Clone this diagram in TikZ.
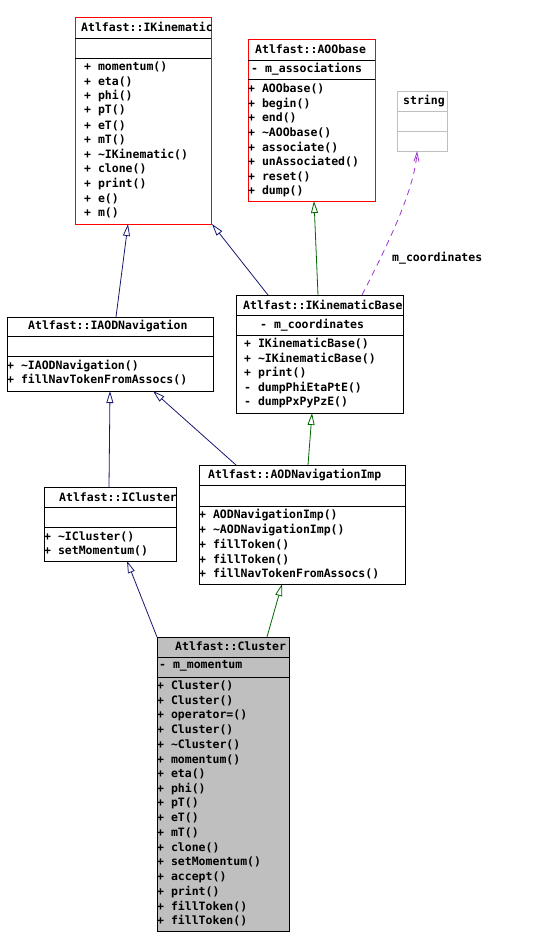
\documentclass[tikz,border=0pt]{standalone}
\usepackage{fontspec}
\setmonofont{DejaVu Sans Mono}
\usetikzlibrary{arrows.meta}
\definecolor{navyline}{RGB}{25,25,112}
\definecolor{greenline}{RGB}{0,100,0}
\definecolor{useline}{RGB}{154,50,205}
\definecolor{boxgray}{RGB}{191,191,191}
\tikzset{
  member/.style={anchor=west, inner sep=0pt, font=\ttfamily\bfseries\fontsize{11.5}{12}\selectfont},
  classline/.style={line width=1pt},
  pubinh/.style={draw=navyline, line width=0.8pt, -{Triangle[open,length=12pt,width=7pt]}},
  protinh/.style={draw=greenline, line width=0.8pt, -{Triangle[open,length=12pt,width=7pt]}},
  usage/.style={draw=useline, line width=0.8pt, dash pattern=on 6pt off 5pt, -{Straight Barb[length=9pt,width=5pt]}}
}
\begin{document}
\begin{tikzpicture}[x=1pt,y=-1pt]
\useasboundingbox[fill=white] (0,0) rectangle (536,948);

% Atlfast::IKinematic
\draw[classline, red] (75,17) rectangle (211,224);
\draw[classline] (75,38) -- (211,38); \draw[classline] (75,58) -- (211,58);
\node[member] (kinT) at (81,27) {Atlfast::IKinematic};
\foreach \m [count=\i] in {momentum(),eta(),phi(),pT(),eT(),mT(),\textasciitilde{}IKinematic(),clone(),print(),e(),m()}
  \node[member] (kin-\i) at (84,{67+14.6*(\i-1)}) {+ \m};

% Atlfast::AOObase
\draw[classline, red] (248,39) rectangle (375,201);
\draw[classline] (248,60) -- (375,60); \draw[classline] (248,79) -- (375,79);
\node[member] (aooT) at (255,49) {Atlfast::AOObase};
\node[member] (aooA) at (251,69) {- m\_associations};
\foreach \m [count=\i] in {AOObase(),begin(),end(),\textasciitilde{}AOObase(),associate(),unAssociated(),reset(),dump()}
  \node[member] (aoo-\i) at (248,{89+14.6*(\i-1)}) {+ \m};

% string
\draw[classline, boxgray] (397,91) rectangle (447,151);
\draw[classline, boxgray] (397,111) -- (447,111); \draw[classline, boxgray] (397,131) -- (447,131);
\node[member] (strT) at (403,101) {string};

% Atlfast::IKinematicBase
\draw[classline] (236,295) rectangle (403,413);
\draw[classline] (236,315) -- (403,315); \draw[classline] (236,335) -- (403,335);
\node[member] (kbT) at (243,305) {Atlfast::IKinematicBase};
\node[member] (kbA) at (260,325) {- m\_coordinates};
\foreach \s/\m [count=\i] in {+/IKinematicBase(),+/\textasciitilde{}IKinematicBase(),+/print(),-/dumpPhiEtaPtE(),-/dumpPxPyPzE()}
  \node[member] (kb-\i) at (244,{344+14.7*(\i-1)}) {\s{} \m};

% Atlfast::IAODNavigation
\draw[classline] (7,317) rectangle (213,391);
\draw[classline] (7,336) -- (213,336); \draw[classline] (7,356) -- (213,356);
\node[member] (navT) at (28,326) {Atlfast::IAODNavigation};
\node[member] (nav-1) at (7,366) {+ \textasciitilde{}IAODNavigation()};
\node[member] (nav-2) at (7,380) {+ fillNavTokenFromAssocs()};

% Atlfast::ICluster
\draw[classline] (44,487) rectangle (176,561);
\draw[classline] (44,507) -- (176,507); \draw[classline] (44,527) -- (176,527);
\node[member] (iclT) at (59,497) {Atlfast::ICluster};
\node[member] (icl-1) at (44,537) {+ \textasciitilde{}ICluster()};
\node[member] (icl-2) at (44,551) {+ setMomentum()};

% Atlfast::AODNavigationImp
\draw[classline] (199,465) rectangle (405,584);
\draw[classline] (199,485) -- (405,485); \draw[classline] (199,506) -- (405,506);
\node[member] (impT) at (208,475) {Atlfast::AODNavigationImp};
\foreach \m [count=\i] in {AODNavigationImp(),\textasciitilde{}AODNavigationImp(),fillToken(),fillToken(),fillNavTokenFromAssocs()}
  \node[member] (imp-\i) at (199,{515+14.75*(\i-1)}) {+ \m};

% Atlfast::Cluster
\draw[classline, fill=boxgray] (157,637) rectangle (289,931);
\draw[classline] (157,657) -- (289,657); \draw[classline] (157,677) -- (289,677);
\node[member] (clT) at (175,646) {Atlfast::Cluster};
\node[member] (clA) at (159,666) {- m\_momentum};
\foreach \m [count=\i] in {Cluster(),Cluster(),operator=(),Cluster(),\textasciitilde{}Cluster(),momentum(),eta(),phi(),pT(),eT(),mT(),clone(),setMomentum(),accept(),print(),fillToken(),fillToken()}
  \node[member] (cl-\i) at (157,{686+14.69*(\i-1)}) {+ \m};

% connector ends
\coordinate (kinB1) at (128,224);  \coordinate (kinB2) at (212,224);
\coordinate (aooB) at (314,201);   \coordinate (strB) at (417,151);
\coordinate (kbT1) at (268,295);   \coordinate (kbT2) at (318,295);
\coordinate (kbT3) at (362,295);   \coordinate (kbB) at (312,413);
\coordinate (navTop) at (116,317); \coordinate (navB1) at (110,391);
\coordinate (navB2) at (153,391);  \coordinate (iclTop) at (109,487);
\coordinate (iclB) at (127,561);   \coordinate (impT1) at (236,465);
\coordinate (impT2) at (308,465);  \coordinate (impB) at (282,584);
\coordinate (clT1) at (157,637);   \coordinate (clT2) at (267,637);

% inheritance
\draw[pubinh] (navTop) -- (kinB1);
\draw[pubinh] (kbT1) -- (kinB2);
\draw[protinh] (kbT2) -- (aooB);
\draw[pubinh] (iclTop) -- (navB1);
\draw[pubinh] (impT1) -- (navB2);
\draw[protinh] (impT2) -- (kbB);
\draw[pubinh] (clT1) -- (iclB);
\draw[protinh] (clT2) -- (impB);

% usage
\draw[usage] (kbT3) .. controls (385,250) and (415,190) .. (strB);
\node[member] (useL) at (392,258) {m\_coordinates};
\end{tikzpicture}
\end{document}
